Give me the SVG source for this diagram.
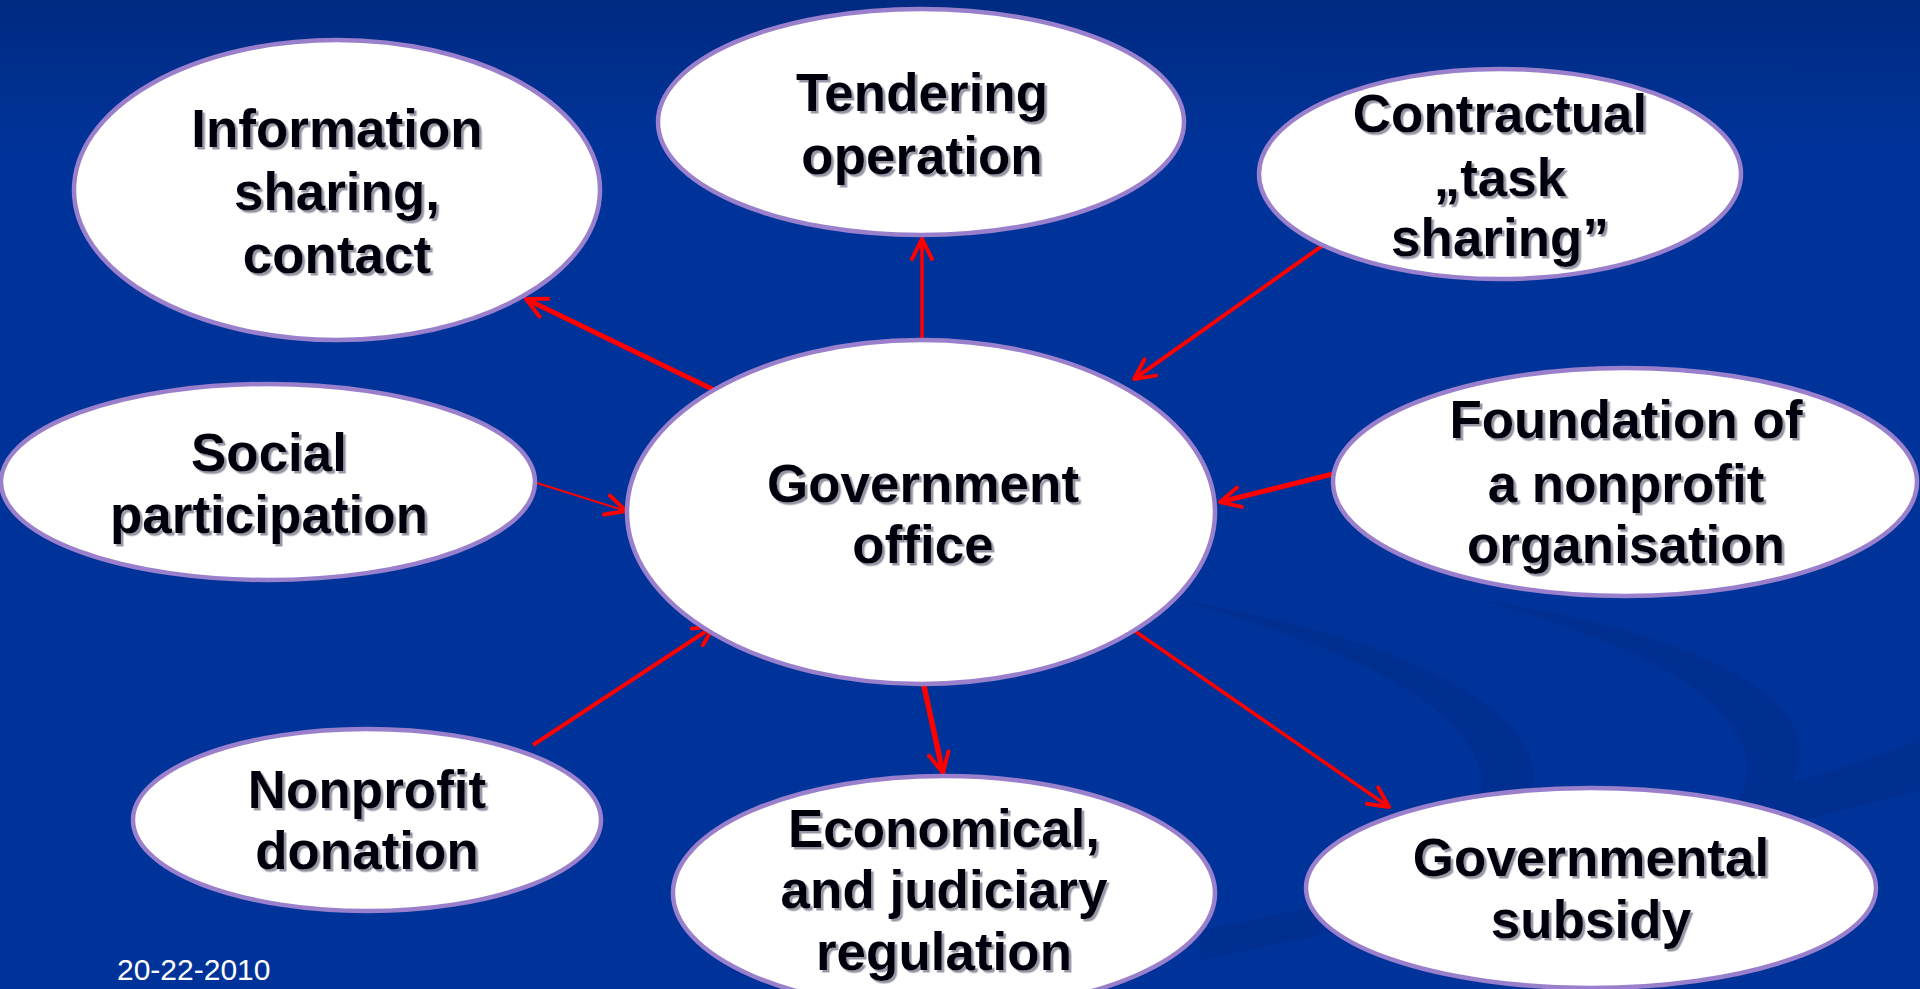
<svg xmlns="http://www.w3.org/2000/svg" width="1920" height="989" viewBox="0 0 1920 989">
<defs>
<linearGradient id="bg" x1="0" y1="0" x2="0" y2="1">
<stop offset="0" stop-color="#002a82"/>
<stop offset="0.15" stop-color="#003399"/>
<stop offset="1" stop-color="#003399"/>
</linearGradient>
<filter id="sh" x="-10%" y="-10%" width="120%" height="130%">
<feDropShadow dx="2.5" dy="2.5" stdDeviation="0.6" flood-color="#8a8a9a" flood-opacity="0.9"/>
</filter>
<marker id="ah" viewBox="0 0 12 12" refX="11" refY="6" markerWidth="24" markerHeight="24" markerUnits="userSpaceOnUse" orient="auto">
<path d="M1,1 L11,6 L1,11" fill="none" stroke="#ff0000" stroke-width="2" stroke-linecap="round" stroke-linejoin="round"/>
</marker>
</defs>
<style>
.node ellipse{fill:#ffffff;stroke:#9a80cc;stroke-width:4.5}
.node text{font-family:"Liberation Sans",Arial,sans-serif;font-weight:bold;font-size:53px;fill:#00000f;text-anchor:middle;filter:url(#sh)}
.con line{stroke:#ff0000;fill:none;marker-end:url(#ah)}
.date{font-family:"Liberation Sans",Arial,sans-serif;font-size:30px;fill:#ffffff}
</style>
<rect x="0" y="0" width="1920" height="989" fill="url(#bg)"/>
<g id="swooshes" fill="#002d8c" opacity="0.6">
<path d="M1180,600 C1420,640 1560,720 1530,800 C1500,870 1380,900 1300,905 C1420,870 1490,820 1480,770 C1460,700 1350,650 1180,600 Z"/>
<path d="M1480,600 C1680,630 1810,690 1800,760 C1790,820 1720,850 1660,860 C1740,820 1760,780 1740,740 C1710,680 1620,640 1480,600 Z"/>
<path d="M1200,930 C1450,880 1700,820 1920,740 L1920,790 C1700,850 1450,910 1200,960 Z"/>
</g>
<g class="con" id="connectors">
<line x1="714" y1="390" x2="526" y2="299" stroke-width="5"/>
<line x1="922" y1="339" x2="922" y2="239" stroke-width="3.5"/>
<line x1="1329" y1="241" x2="1134" y2="379" stroke-width="4"/>
<line x1="537" y1="483" x2="626" y2="511" stroke-width="2"/>
<line x1="1333" y1="474" x2="1220" y2="502" stroke-width="5"/>
<line x1="533" y1="745" x2="714" y2="626" stroke-width="4"/>
<line x1="922" y1="677" x2="943" y2="773" stroke-width="5.5"/>
<line x1="1129" y1="627" x2="1389" y2="807" stroke-width="3.5"/>
</g>
<g class="node" id="n-info">
<ellipse cx="337" cy="190" rx="263" ry="150"/>
<text x="337" y="147">Information</text>
<text x="337" y="210">sharing,</text>
<text x="337" y="273">contact</text>
</g>
<g class="node" id="n-tender">
<ellipse cx="921" cy="122" rx="263" ry="113"/>
<text x="922" y="111">Tendering</text>
<text x="922" y="174">operation</text>
</g>
<g class="node" id="n-contract">
<ellipse cx="1500" cy="174" rx="241" ry="105"/>
<text x="1500" y="132">Contractual</text>
<text x="1500" y="196">„task</text>
<text x="1500" y="256">sharing”</text>
</g>
<g class="node" id="n-social">
<ellipse cx="268" cy="482" rx="267" ry="98"/>
<text x="269" y="471">Social</text>
<text x="269" y="533">participation</text>
</g>
<g class="node" id="n-gov">
<ellipse cx="921" cy="512" rx="294" ry="172"/>
<text x="923" y="502">Government</text>
<text x="923" y="563">office</text>
</g>
<g class="node" id="n-found">
<ellipse cx="1625" cy="482" rx="292" ry="114"/>
<text x="1626" y="438">Foundation of</text>
<text x="1626" y="502">a nonprofit</text>
<text x="1626" y="563">organisation</text>
</g>
<g class="node" id="n-donation">
<ellipse cx="367" cy="820" rx="234" ry="91"/>
<text x="367" y="808">Nonprofit</text>
<text x="367" y="869">donation</text>
</g>
<g class="node" id="n-econ">
<ellipse cx="944" cy="893" rx="271" ry="117"/>
<text x="944" y="847">Economical,</text>
<text x="944" y="908">and judiciary</text>
<text x="944" y="970">regulation</text>
</g>
<g class="node" id="n-subsidy">
<ellipse cx="1591" cy="888" rx="285" ry="100"/>
<text x="1591" y="876">Governmental</text>
<text x="1591" y="938">subsidy</text>
</g>
<text class="date" x="117" y="980">20-22-2010</text>
</svg>
